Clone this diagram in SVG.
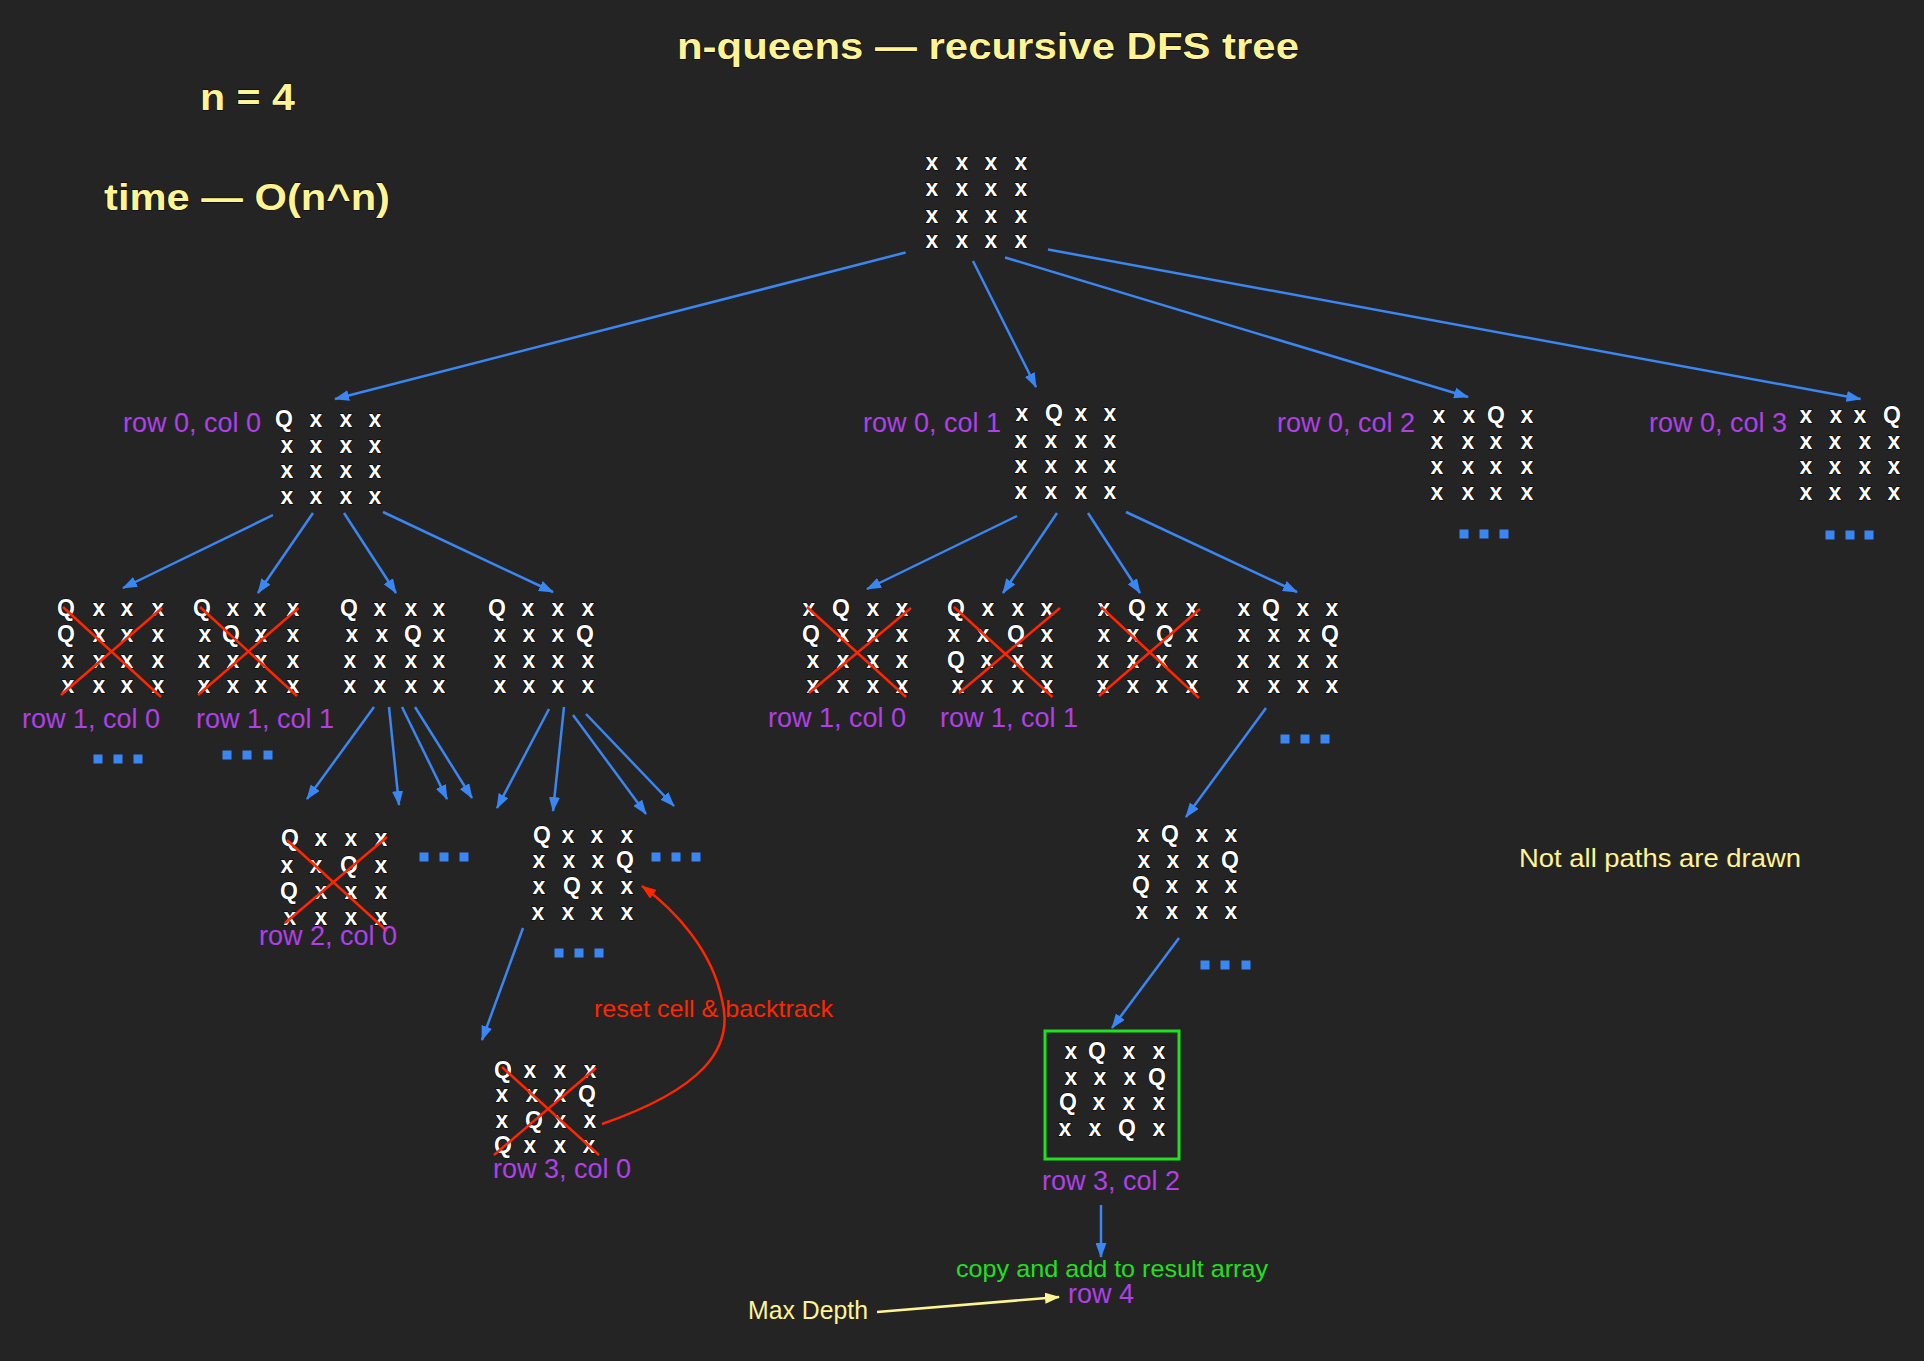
<svg xmlns="http://www.w3.org/2000/svg" width="1924" height="1361" viewBox="0 0 1924 1361">
<defs>
<marker id="ab" viewBox="0 0 15 11" refX="14" refY="5.5" markerWidth="15" markerHeight="11" markerUnits="userSpaceOnUse" orient="auto"><path d="M0,0 L15,5.5 L0,11 z" fill="#3a86f2"/></marker>
<marker id="ar" viewBox="0 0 15 11" refX="14" refY="5.5" markerWidth="15" markerHeight="11" markerUnits="userSpaceOnUse" orient="auto"><path d="M0,0 L15,5.5 L0,11 z" fill="#ff2600"/></marker>
<marker id="ay" viewBox="0 0 15 11" refX="14" refY="5.5" markerWidth="15" markerHeight="11" markerUnits="userSpaceOnUse" orient="auto"><path d="M0,0 L15,5.5 L0,11 z" fill="#fff493"/></marker>
<style>
.bg{fill:#242424}
.q{font-family:"Liberation Sans",Arial,sans-serif;font-weight:bold;font-size:23px;fill:#fff;text-anchor:middle;stroke:#000;stroke-width:1.2px;paint-order:stroke}
.lbl{font-family:"Liberation Sans",Arial,sans-serif;font-size:27px;fill:#b040e8}
.ttl{font-family:"Liberation Sans",Arial,sans-serif;font-weight:bold;font-size:37px;fill:#fff493;stroke:#000;stroke-width:1px;paint-order:stroke}
.note{font-family:"Liberation Sans",Arial,sans-serif;font-size:26px;fill:#fff493}
.red{font-family:"Liberation Sans",Arial,sans-serif;font-size:24px;fill:#ff2600}
.grn{font-family:"Liberation Sans",Arial,sans-serif;font-size:24px;fill:#20e020}
.e{stroke:#3a86f2;stroke-width:2.5;fill:none;marker-end:url(#ab)}
.x{stroke:#ff2600;stroke-width:2.5;fill:none}
.d{fill:#3a86f2}
</style>
</defs>
<rect class="bg" x="0" y="0" width="1924" height="1361"/>

<g id="titles">
<text class="ttl" x="677" y="59" textLength="622" lengthAdjust="spacingAndGlyphs">n-queens — recursive DFS tree</text>
<text class="ttl" x="200" y="110" textLength="95" lengthAdjust="spacingAndGlyphs">n = 4</text>
<text class="ttl" x="104" y="210" textLength="286" lengthAdjust="spacingAndGlyphs">time — O(n^n)</text>
<text class="note" x="1519" y="867" textLength="282" lengthAdjust="spacingAndGlyphs">Not all paths are drawn</text>
</g>

<g id="connectors">
<line class="e" x1="905.6" y1="252.5" x2="335" y2="399"/>
<line class="e" x1="973" y1="261" x2="1036" y2="387"/>
<line class="e" x1="1005" y1="257.5" x2="1468" y2="397"/>
<line class="e" x1="1048" y1="249.5" x2="1860.5" y2="399"/>
<line class="e" x1="273" y1="515" x2="123" y2="588"/>
<line class="e" x1="313" y1="513" x2="258" y2="593"/>
<line class="e" x1="344" y1="513" x2="396" y2="593"/>
<line class="e" x1="383" y1="512" x2="553" y2="592"/>
<line class="e" x1="374" y1="707" x2="307" y2="799"/>
<line class="e" x1="389" y1="707" x2="399" y2="805"/>
<line class="e" x1="402" y1="707" x2="447" y2="799"/>
<line class="e" x1="415" y1="707" x2="472" y2="798"/>
<line class="e" x1="549" y1="709" x2="497" y2="808"/>
<line class="e" x1="564" y1="707" x2="553" y2="811"/>
<line class="e" x1="573" y1="715" x2="646" y2="814"/>
<line class="e" x1="586" y1="714" x2="674" y2="806"/>
<line class="e" x1="1017" y1="516" x2="867" y2="589"/>
<line class="e" x1="1057" y1="513" x2="1003" y2="593"/>
<line class="e" x1="1088" y1="513" x2="1140" y2="593"/>
<line class="e" x1="1126" y1="512" x2="1297" y2="592"/>
<line class="e" x1="523" y1="928" x2="482" y2="1040"/>
<line class="e" x1="1266" y1="708" x2="1186" y2="817"/>
<line class="e" x1="1179" y1="938" x2="1112" y2="1028"/>
<line class="e" x1="1101" y1="1205" x2="1101" y2="1257"/>
<path d="M602,1124 C700,1090 735,1050 722,1000 C712,950 675,910 642,886" stroke="#ff2600" stroke-width="2.5" fill="none" marker-end="url(#ar)"/>
<line x1="877" y1="1312" x2="1059" y2="1297" stroke="#fff493" stroke-width="2.5" marker-end="url(#ay)"/>
</g>

<g id="dots">
<rect class="d" x="93.5" y="754.5" width="9" height="9"/><rect class="d" x="113.5" y="754.5" width="9" height="9"/><rect class="d" x="133.5" y="754.5" width="9" height="9"/>
<rect class="d" x="222.5" y="750.5" width="9" height="9"/><rect class="d" x="242.5" y="750.5" width="9" height="9"/><rect class="d" x="263.5" y="750.5" width="9" height="9"/>
<rect class="d" x="1459.5" y="529.5" width="9" height="9"/><rect class="d" x="1479.5" y="529.5" width="9" height="9"/><rect class="d" x="1499.5" y="529.5" width="9" height="9"/>
<rect class="d" x="1825.5" y="530.5" width="9" height="9"/><rect class="d" x="1845.5" y="530.5" width="9" height="9"/><rect class="d" x="1864.5" y="530.5" width="9" height="9"/>
<rect class="d" x="419.5" y="852.5" width="9" height="9"/><rect class="d" x="439.5" y="852.5" width="9" height="9"/><rect class="d" x="459.5" y="852.5" width="9" height="9"/>
<rect class="d" x="651.5" y="852.5" width="9" height="9"/><rect class="d" x="671.5" y="852.5" width="9" height="9"/><rect class="d" x="691.5" y="852.5" width="9" height="9"/>
<rect class="d" x="554.5" y="948.5" width="9" height="9"/><rect class="d" x="574.5" y="948.5" width="9" height="9"/><rect class="d" x="594.5" y="948.5" width="9" height="9"/>
<rect class="d" x="1280.5" y="734.5" width="9" height="9"/><rect class="d" x="1300.5" y="734.5" width="9" height="9"/><rect class="d" x="1320.5" y="734.5" width="9" height="9"/>
<rect class="d" x="1200.5" y="960.5" width="9" height="9"/><rect class="d" x="1220.5" y="960.5" width="9" height="9"/><rect class="d" x="1241.5" y="960.5" width="9" height="9"/>
</g>

<g id="root">
<text class="q" x="932 962 991 1021" y="170">xxxx</text>
<text class="q" x="932 962 991 1021" y="196">xxxx</text>
<text class="q" x="932 962 991 1021" y="223">xxxx</text>
<text class="q" x="932 962 991 1021" y="248">xxxx</text>
</g>

<g id="r0c0">
<text class="lbl" x="123" y="432">row 0, col 0</text>
<text class="q" x="284 316 346 375" y="427">Qxxx</text>
<text class="q" x="287 316 346 375" y="453">xxxx</text>
<text class="q" x="287 316 346 375" y="478">xxxx</text>
<text class="q" x="287 316 346 375" y="504">xxxx</text>
</g>
<g id="r0c1">
<text class="lbl" x="863" y="432">row 0, col 1</text>
<text class="q" x="1022 1054 1081 1110" y="421">xQxx</text>
<text class="q" x="1021 1051 1081 1110" y="448">xxxx</text>
<text class="q" x="1021 1051 1081 1110" y="473">xxxx</text>
<text class="q" x="1021 1051 1081 1110" y="499">xxxx</text>
</g>
<g id="r0c2">
<text class="lbl" x="1277" y="432">row 0, col 2</text>
<text class="q" x="1439 1469 1496 1527" y="423">xxQx</text>
<text class="q" x="1437 1468 1496 1527" y="449">xxxx</text>
<text class="q" x="1437 1468 1496 1527" y="474">xxxx</text>
<text class="q" x="1437 1468 1496 1527" y="500">xxxx</text>
</g>
<g id="r0c3">
<text class="lbl" x="1649" y="432">row 0, col 3</text>
<text class="q" x="1806 1836 1860 1892" y="423">xxxQ</text>
<text class="q" x="1806 1835 1865 1894" y="449">xxxx</text>
<text class="q" x="1806 1835 1865 1894" y="474">xxxx</text>
<text class="q" x="1806 1835 1865 1894" y="500">xxxx</text>
</g>

<g id="a_r1c0">
<text class="q" x="66 99 127 158" y="616">Qxxx</text>
<text class="q" x="66 99 127 158" y="642">Qxxx</text>
<text class="q" x="68 99 127 158" y="668">xxxx</text>
<text class="q" x="68 99 127 158" y="693">xxxx</text>
<line class="x" x1="61" y1="695" x2="162" y2="608"/><line class="x" x1="63" y1="607" x2="161" y2="697"/>
<text class="lbl" x="22" y="728">row 1, col 0</text>
</g>
<g id="a_r1c1">
<text class="q" x="202 233 260 293" y="616">Qxxx</text>
<text class="q" x="205 231 261 293" y="642">xQxx</text>
<text class="q" x="204 233 261 293" y="668">xxxx</text>
<text class="q" x="204 233 261 293" y="693">xxxx</text>
<line class="x" x1="198" y1="695" x2="298.5" y2="608"/><line class="x" x1="200" y1="607" x2="297" y2="696"/>
<text class="lbl" x="196" y="728">row 1, col 1</text>
</g>
<g id="a_r1c2">
<text class="q" x="349 380 411 439" y="616">Qxxx</text>
<text class="q" x="352 382 413 439" y="642">xxQx</text>
<text class="q" x="350 380 411 439" y="668">xxxx</text>
<text class="q" x="350 380 411 439" y="693">xxxx</text>
</g>
<g id="a_r1c3">
<text class="q" x="497 528 558 588" y="616">Qxxx</text>
<text class="q" x="500 529 558 585" y="642">xxxQ</text>
<text class="q" x="500 529 558 588" y="668">xxxx</text>
<text class="q" x="500 529 558 588" y="693">xxxx</text>
</g>

<g id="b_r1c0">
<text class="q" x="809 841 873 902" y="616">xQxx</text>
<text class="q" x="811 843 873 902" y="642">Qxxx</text>
<text class="q" x="813 843 873 902" y="668">xxxx</text>
<text class="q" x="813 843 873 902" y="693">xxxx</text>
<line class="x" x1="809" y1="693" x2="911" y2="608"/><line class="x" x1="807" y1="607" x2="906" y2="697"/>
<text class="lbl" x="768" y="727">row 1, col 0</text>
</g>
<g id="b_r1c1">
<text class="q" x="956 988 1018 1047" y="616">Qxxx</text>
<text class="q" x="954 983 1016 1047" y="642">xxQx</text>
<text class="q" x="956 987 1018 1047" y="668">Qxxx</text>
<text class="q" x="958 987 1018 1047" y="693">xxxx</text>
<line class="x" x1="959" y1="693" x2="1060" y2="608"/><line class="x" x1="954" y1="607" x2="1052.5" y2="697"/>
<text class="lbl" x="940" y="727">row 1, col 1</text>
</g>
<g id="b_r1c2">
<text class="q" x="1104 1137 1162 1192" y="616">xQxx</text>
<text class="q" x="1104 1133 1165 1192" y="642">xxQx</text>
<text class="q" x="1103 1133 1162 1192" y="668">xxxx</text>
<text class="q" x="1103 1133 1162 1192" y="693">xxxx</text>
<line class="x" x1="1099" y1="696" x2="1200" y2="609"/><line class="x" x1="1101" y1="607" x2="1199" y2="698"/>
</g>
<g id="b_r1c3">
<text class="q" x="1244 1271 1303 1332" y="616">xQxx</text>
<text class="q" x="1244 1274 1304 1330" y="642">xxxQ</text>
<text class="q" x="1243 1274 1303 1332" y="668">xxxx</text>
<text class="q" x="1243 1274 1303 1332" y="693">xxxx</text>
</g>

<g id="a_r2c0">
<text class="q" x="290 321 351 381" y="846">Qxxx</text>
<text class="q" x="287 316 349 381" y="873">xxQx</text>
<text class="q" x="289 321 351 381" y="899">Qxxx</text>
<text class="q" x="290 321 351 381" y="925">xxxx</text>
<line class="x" x1="285" y1="923" x2="387" y2="837"/><line class="x" x1="287" y1="840" x2="387" y2="931"/>
<text class="lbl" x="259" y="945">row 2, col 0</text>
</g>
<g id="a_r2c1">
<text class="q" x="542 568 597 627" y="843">Qxxx</text>
<text class="q" x="539 569 598 625" y="868">xxxQ</text>
<text class="q" x="539 572 597 627" y="894">xQxx</text>
<text class="q" x="538 568 597 627" y="920">xxxx</text>
</g>
<g id="a_r3c0">
<text class="q" x="503 530 560 590" y="1078">Qxxx</text>
<text class="q" x="502 532 560 587" y="1102">xxxQ</text>
<text class="q" x="502 534 560 590" y="1128">xQxx</text>
<text class="q" x="503 530 560 589" y="1153">Qxxx</text>
<line class="x" x1="494" y1="1155" x2="596" y2="1068"/><line class="x" x1="502" y1="1067" x2="599" y2="1155"/>
<text class="lbl" x="493" y="1178">row 3, col 0</text>
</g>
<g id="backtrack">
<text class="red" x="594" y="1017" textLength="239" lengthAdjust="spacingAndGlyphs">reset cell &amp; backtrack</text>
</g>

<g id="b_r2c1">
<text class="q" x="1143 1170 1202 1231" y="842">xQxx</text>
<text class="q" x="1144 1173 1203 1230" y="868">xxxQ</text>
<text class="q" x="1141 1172 1202 1231" y="893">Qxxx</text>
<text class="q" x="1142 1172 1202 1231" y="919">xxxx</text>
</g>
<g id="b_r3c2">
<rect x="1045" y="1031" width="134" height="128" fill="none" stroke="#20e020" stroke-width="3"/>
<text class="q" x="1071 1097 1129 1159" y="1059">xQxx</text>
<text class="q" x="1071 1100 1130 1157" y="1085">xxxQ</text>
<text class="q" x="1068 1099 1129 1159" y="1110">Qxxx</text>
<text class="q" x="1065 1095 1127 1159" y="1136">xxQx</text>
<text class="lbl" x="1042" y="1190">row 3, col 2</text>
</g>
<g id="row4">
<text class="grn" x="956" y="1277" textLength="312" lengthAdjust="spacingAndGlyphs">copy and add to result array</text>
<text class="lbl" x="1068" y="1303">row 4</text>
</g>
<g id="maxdepth">
<text class="note" x="748" y="1319" style="font-size:25px" textLength="120" lengthAdjust="spacingAndGlyphs">Max Depth</text>
</g>
</svg>
